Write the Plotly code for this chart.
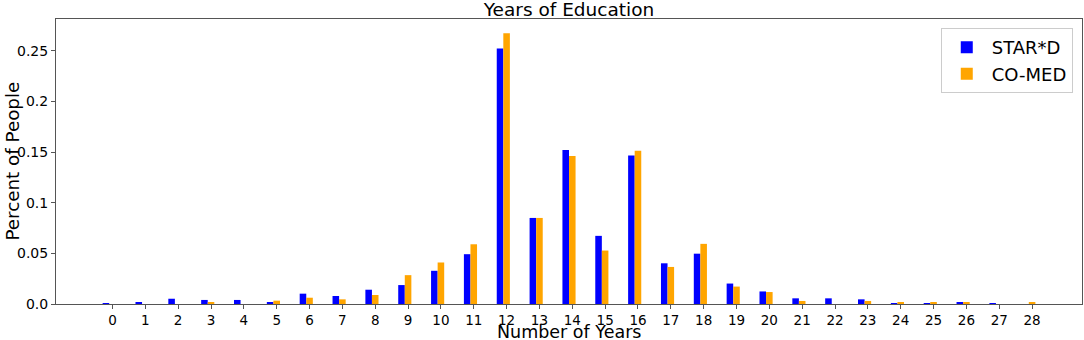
import plotly.graph_objects as go

years = list(range(29))
star_d = [0.0005, 0.001, 0.0052, 0.004, 0.004, 0.0017, 0.0102, 0.0079, 0.0141, 0.0187,
          0.0328, 0.0492, 0.2524, 0.085, 0.152, 0.0673, 0.1466, 0.0402, 0.0497, 0.0202,
          0.0124, 0.0056, 0.0056, 0.0046, 0.0008, 0.0005, 0.001, 0.0005, 0.0]
co_med = [0.0, 0.0, 0.0, 0.0012, 0.0, 0.0033, 0.0062, 0.0046, 0.0089, 0.0285,
          0.041, 0.059, 0.2674, 0.085, 0.1463, 0.0528, 0.1513, 0.0366, 0.0594, 0.0172,
          0.0118, 0.003, 0.0, 0.003, 0.0013, 0.001, 0.0012, 0.0, 0.001]
y_tickvals = [0, 0.05, 0.1, 0.15, 0.2, 0.25]
y_ticktext = ["0.0", "0.05", "0.1", "0.15", "0.2", "0.25"]

FONT = "DejaVu Sans"
W, H = 1084, 340
L, R, T, B = 56, 2, 19, 36

fig = go.Figure()
fig.add_trace(go.Bar(x=years, y=star_d, name="STAR*D", marker_color="#0000FF",
                     marker_line_width=0, width=0.2, offset=-0.3))
fig.add_trace(go.Bar(x=years, y=co_med, name="CO-MED", marker_color="#FFA500",
                     marker_line_width=0, width=0.2, offset=-0.1))

axis_common = dict(showline=True, linecolor="#555555", linewidth=1, mirror=True,
                   ticks="outside", ticklen=4, tickcolor="#555555", showgrid=False,
                   zeroline=False, automargin=False)

plot_h = H - T - B
plot_w = W - L - R

fig.update_layout(
    width=W, height=H,
    margin=dict(l=L, r=R, t=T, b=B),
    paper_bgcolor="white", plot_bgcolor="white",
    barmode="overlay",
    font=dict(family=FONT, color="#000000"),
    title=dict(text="Years of Education", x=(L + plot_w / 2) / W, xanchor="center",
               y=1 - 10 / H, yanchor="middle", automargin=False,
               font=dict(family=FONT, size=18.5, color="#000000")),
    xaxis=dict(range=[-1.72, 29.52], tickmode="array", tickvals=years,
               ticktext=[str(v) for v in years],
               tickfont=dict(family=FONT, size=13.5, color="#000000"), **axis_common),
    yaxis=dict(range=[0, 0.2815], tickmode="array", tickvals=y_tickvals, ticktext=y_ticktext,
               tickfont=dict(family=FONT, size=14, color="#000000"), **axis_common),
    legend=dict(x=0.991, y=0.968, xanchor="right", yanchor="top",
                bordercolor="#cccccc", borderwidth=1, bgcolor="rgba(255,255,255,0.8)",
                font=dict(family=FONT, size=18, color="#000000"), itemwidth=40,
                tracegroupgap=4),
    showlegend=True,
    annotations=[
        dict(text="Number of Years", xref="paper", yref="paper",
             x=0.5, y=-(332 - (H - B)) / plot_h, xanchor="center", yanchor="middle",
             showarrow=False, font=dict(family=FONT, size=17.5, color="#000000")),
        dict(text="Percent of People", xref="paper", yref="paper",
             x=-(L - 12) / plot_w, y=0.5, xanchor="center", yanchor="middle",
             textangle=-90, showarrow=False,
             font=dict(family=FONT, size=18.3, color="#000000")),
    ],
)

fig.write_html("out.html", config={"displayModeBar": False},
               post_script="document.body.style.margin='0';")
